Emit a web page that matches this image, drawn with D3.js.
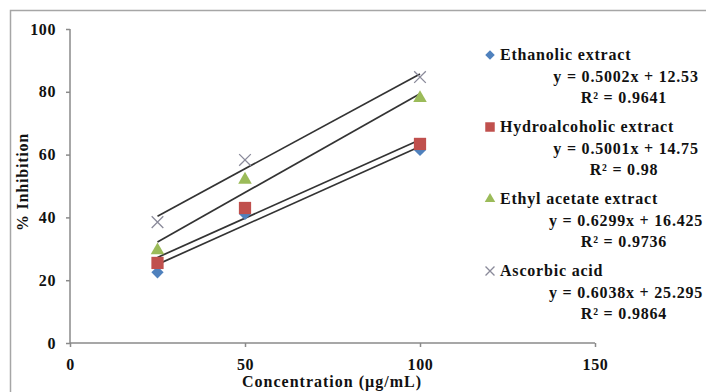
<!doctype html>
<html>
<head>
<meta charset="utf-8">
<style>
  body { margin:0; background:#fff; }
  svg { display:block; }
  text { font-family:"Liberation Serif", "Times New Roman", serif; font-weight:bold; fill:#111; }
  .axis path, .axis line { stroke:#8a8a8a; stroke-width:1.5px; }
  .axis text { font-size:16px; letter-spacing:0.6px; }
  .trend { stroke:#333; stroke-width:1.7px; fill:none; }
  .leg { font-size:16px; letter-spacing:0.8px; }
</style>
<script src="https://cdn.jsdelivr.net/npm/d3@7"></script>
</head>
<body>
<svg id="chart" width="706" height="392"></svg>
<script>
  // concentrations (µg/mL)
  var conc = [25, 50, 100]

  // % inhibition per sample
  var seriesNames = ["Ethanolic extract", "Hydroalcoholic extract", "Ethyl acetate extract", "Ascorbic acid"]
  var ethanolic = [22.5, 41.1, 61.5]
  var hydroalcoholic = [25.5, 43.0, 63.4]
  var ethylAcetate = [29.5, 52.0, 78.0]
  var ascorbic = [38.5, 58.3, 84.7]

  // fitted lines from the figure
  var slopes = [0.5002, 0.5001, 0.6299, 0.6038]
  var intercepts = [12.53, 14.75, 16.425, 25.295]
  var equations = ["y = 0.5002x + 12.53", "y = 0.5001x + 14.75", "y = 0.6299x + 16.425", "y = 0.6038x + 25.295"]
  var r2 = ["R\u00b2 = 0.9641", "R\u00b2 = 0.98", "R\u00b2 = 0.9736", "R\u00b2 = 0.9864"]

  var xTicks = [0, 50, 100, 150]
  var yTicks = [0, 20, 40, 60, 80, 100]

  var colors = ["#4f81bd", "#c0504d", "#9bbb59", "#8a8a9a"]
  var values = [ethanolic, hydroalcoholic, ethylAcetate, ascorbic]

  var svg = d3.select("#chart")

  // chart frame (top and left edges visible)
  svg.append("path")
     .attr("d", "M10.5,392 L10.5,10.5 L706,10.5")
     .attr("fill", "none")
     .attr("stroke", "#a6a6a6")
     .attr("stroke-width", 1.5)

  var xScale = d3.scaleLinear().domain([0, 150]).range([70, 595])
  var yScale = d3.scaleLinear().domain([0, 100]).range([343, 29])

  var gx = svg.append("g")
     .attr("class", "axis")
     .attr("transform", "translate(0," + yScale(0) + ")")
     .call(d3.axisBottom(xScale).tickValues(xTicks).tickSizeInner(4).tickSizeOuter(0).tickPadding(12))
  gx.select(".domain").attr("d", "M" + xScale(0) + ",0H" + xScale(150))

  var gy = svg.append("g")
     .attr("class", "axis")
     .attr("transform", "translate(" + xScale(0) + ",0)")
     .call(d3.axisLeft(yScale).tickValues(yTicks).tickSizeInner(4).tickSizeOuter(0).tickPadding(10))
  gy.select(".domain").attr("d", "M0," + yScale(0) + "V" + yScale(100))

  svg.append("text")
     .attr("x", 332).attr("y", 387)
     .attr("text-anchor", "middle")
     .style("font-size", "16px").style("letter-spacing", "1px")
     .text("Concentration (\u00b5g/mL)")

  svg.append("text")
     .attr("transform", "translate(28,182) rotate(-90)")
     .attr("text-anchor", "middle")
     .style("font-size", "16px").style("letter-spacing", "0.8px")
     .text("% Inhibition")

  // trendlines
  svg.selectAll(".trend")
     .data(slopes)
     .enter()
     .append("line")
     .attr("class", "trend")
     .attr("x1", xScale(conc[0]))
     .attr("x2", xScale(conc[conc.length - 1]))
     .attr("y1", function(d, i){ return yScale(d * conc[0] + intercepts[i]) })
     .attr("y2", function(d, i){ return yScale(d * conc[conc.length - 1] + intercepts[i]) })

  function marker(i, size) {
    if (i == 0) return d3.symbol().type(d3.symbolSquare).size(size * 0.75)()
    if (i == 1) return d3.symbol().type(d3.symbolSquare).size(size * 1.5)()
    if (i == 2) return d3.symbol().type(d3.symbolTriangle).size(size * 0.8)()
    return d3.symbol().type(d3.symbolTimes || d3.symbolCross).size(size * 0.9)()
  }

  function styleMarker(sel, i) {
    if (i == 3) sel.attr("fill", "none").attr("stroke", colors[i]).attr("stroke-width", 1.3)
    else sel.attr("fill", colors[i])
  }

  // points, drawn in series order
  values.forEach(function(vals, i) {
    var pts = svg.selectAll(".pt" + i)
       .data(vals)
       .enter()
       .append("path")
       .attr("class", "pt" + i)
       .attr("d", marker(i, 100))
       .attr("transform", function(d, j){
         return "translate(" + xScale(conc[j]) + "," + yScale(d) + ")" + (i == 0 ? " rotate(45)" : "")
       })
    styleMarker(pts, i)
  })

  // legend
  var leg = svg.append("g")
  seriesNames.forEach(function(name, i) {
    var y0 = 60 + i * 72
    var m = leg.append("path")
       .attr("d", marker(i, 60))
       .attr("transform", "translate(490," + (y0 - 5) + ")" + (i == 0 ? " rotate(45)" : ""))
    styleMarker(m, i)
    leg.append("text").attr("class", "leg").attr("x", 500).attr("y", y0).text(name)
    leg.append("text").attr("class", "leg").attr("x", 626).attr("y", y0 + 22)
       .attr("text-anchor", "middle").text(equations[i])
    leg.append("text").attr("class", "leg").attr("x", 624).attr("y", y0 + 43)
       .attr("text-anchor", "middle").text(r2[i])
  })
</script>
</body>
</html>
